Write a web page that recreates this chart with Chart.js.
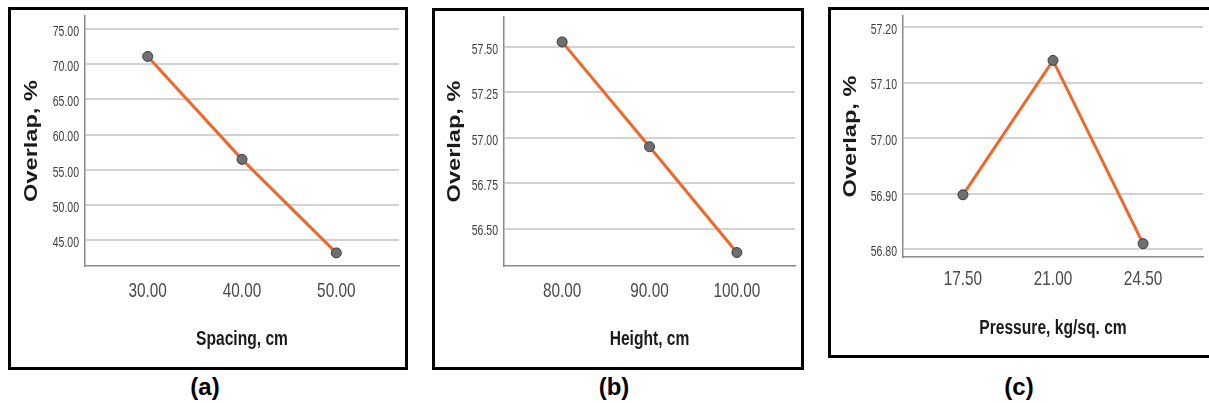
<!DOCTYPE html>
<html>
<head>
<meta charset="utf-8">
<script src="https://cdn.jsdelivr.net/npm/chart.js@4.4.0/dist/chart.umd.min.js"></script>
<style>
  body { margin: 0; background: #fff; width: 1209px; height: 403px; overflow: hidden; position: relative; }
  .box { position: absolute; border: 3px solid #000; box-sizing: border-box; background: #fff; }
  .box canvas { position: absolute; left: 0; top: 0; }
  .tag { position: absolute; font: bold 24px "Liberation Sans", Arial, sans-serif; color: #000; transform: translate(-50%, -50%); }
</style>
</head>
<body>
<div class="box" style="left:8px;top:7px;width:400px;height:363px;"><canvas id="chartA" width="394" height="357"></canvas></div>
<div class="box" style="left:432px;top:8px;width:372px;height:362px;"><canvas id="chartB" width="366" height="356"></canvas></div>
<div class="box" style="left:828px;top:7px;width:390px;height:351px;"><canvas id="chartC" width="378" height="345"></canvas></div>
<div class="tag" style="left:205px;top:387px;">(a)</div>
<div class="tag" style="left:614px;top:387px;">(b)</div>
<div class="tag" style="left:1019px;top:387px;">(c)</div>

<script>
// ---- data ----
const spacingCm = [30, 40, 50];
const overlapBySpacing = [71.07, 56.48, 43.23];
const spacingYTicks = [45, 50, 55, 60, 65, 70, 75];

const heightCm = [80, 90, 100];
const overlapByHeight = [57.527, 56.95, 56.368];
const heightYTicks = [56.5, 56.75, 57.0, 57.25, 57.5];

const pressureKg = [17.5, 21, 24.5];
const overlapByPressure = [56.898, 57.14, 56.81];
const pressureYTicks = [56.8, 56.9, 57.0, 57.1, 57.2];

const sans = '"Liberation Sans", Arial, sans-serif';

// the source figure was squeezed sideways, so text is drawn narrow
function squeezedText(ctx, text, x, y, opts) {
    ctx.save();
    ctx.font = opts.font;
    ctx.fillStyle = opts.color;
    ctx.textAlign = opts.align || "center";
    ctx.textBaseline = "middle";
    ctx.translate(x, y);
    if (opts.rotate) ctx.rotate(opts.rotate);
    ctx.scale(opts.sx, 1);
    ctx.fillText(text, 0, 0);
    ctx.restore();
}

const axisText = {
    id: "axisText",
    afterDraw(chart, args, o) {
        const { ctx, chartArea: ca, scales: { x, y } } = chart;
        x.ticks.forEach(t => {
            squeezedText(ctx, t.value.toFixed(2), x.getPixelForValue(t.value), ca.bottom + o.xTickGap,
                { font: "21px " + sans, color: "#4a4a4a", sx: 0.73 });
        });
        y.ticks.forEach(t => {
            squeezedText(ctx, t.value.toFixed(2), ca.left - 6, y.getPixelForValue(t.value) + 3,
                { font: "14px " + sans, color: "#3d3d3d", sx: 0.75, align: "right" });
        });
        squeezedText(ctx, o.xTitle, (ca.left + ca.right) / 2, ca.bottom + o.xTitleGap,
            { font: "bold 20px " + sans, color: "#1a1a1a", sx: 0.78 });
        squeezedText(ctx, "Overlap, %", ca.left - o.yTitleGap, (ca.top + ca.bottom) / 2,
            { font: "bold 19px " + sans, color: "#1a1a1a", sx: 1.24, rotate: -Math.PI / 2 });
    }
};

function renderPanel(id, xs, ys, xTicks, yTicks, xLabel, geo) {
    new Chart(document.getElementById(id), {
        type: "line",
        data: {
            datasets: [{
                data: xs.map((x, i) => ({ x, y: ys[i] })),
                borderColor: "#f0672a",
                borderWidth: 3,
                pointRadius: 5,
                pointBackgroundColor: "#6f6f6f",
                pointBorderColor: "#3a3a3a",
                pointBorderWidth: 1,
                tension: 0
            }]
        },
        options: {
            responsive: false,
            animation: false,
            layout: { padding: { left: 0, top: geo.top, right: geo.right, bottom: 0 } },
            plugins: {
                legend: { display: false },
                tooltip: { enabled: false },
                axisText: { xTitle: xLabel, xTickGap: geo.xTickGap, xTitleGap: geo.xTitleGap, yTitleGap: geo.yTitleGap }
            },
            scales: {
                x: {
                    type: "linear",
                    min: geo.xmin,
                    max: geo.xmax,
                    afterBuildTicks: s => { s.ticks = xTicks.map(v => ({ value: v })); },
                    afterFit: s => { s.height = geo.xh; },
                    grid: { display: false, drawTicks: false },
                    border: { color: "#8a8a8a", width: 1.5 },
                    ticks: { display: false }
                },
                y: {
                    min: geo.ymin,
                    max: geo.ymax,
                    afterBuildTicks: s => { s.ticks = yTicks.map(v => ({ value: v })); },
                    afterFit: s => { s.width = geo.yw; },
                    grid: { color: "#d2d2d2", lineWidth: 2, drawTicks: false },
                    border: { color: "#8a8a8a", width: 1.5 },
                    ticks: { display: false }
                }
            }
        },
        plugins: [axisText]
    });
}

renderPanel("chartA", spacingCm, overlapBySpacing, spacingCm, spacingYTicks, "Spacing, cm",
    { top: 2, right: 4, xh: 101, yw: 74, xmin: 23.35, xmax: 56.65, ymin: 41.37, ymax: 76.8,
      xTickGap: 25, xTitleGap: 73, yTitleGap: 53 });

renderPanel("chartB", heightCm, overlapByHeight, heightCm, heightYTicks, "Height, cm",
    { top: 2, right: 4, xh: 101, yw: 69, xmin: 73.35, xmax: 106.65, ymin: 56.294, ymax: 57.664,
      xTickGap: 25, xTitleGap: 73, yTitleGap: 49 });

renderPanel("chartC", pressureKg, overlapByPressure, pressureKg, pressureYTicks, "Pressure, kg/sq. cm",
    { top: 3, right: 0, xh: 98, yw: 72, xmin: 15.17, xmax: 26.83, ymin: 56.786, ymax: 57.22,
      xTickGap: 22, xTitleGap: 71, yTitleGap: 52 });
</script>
</body>
</html>
